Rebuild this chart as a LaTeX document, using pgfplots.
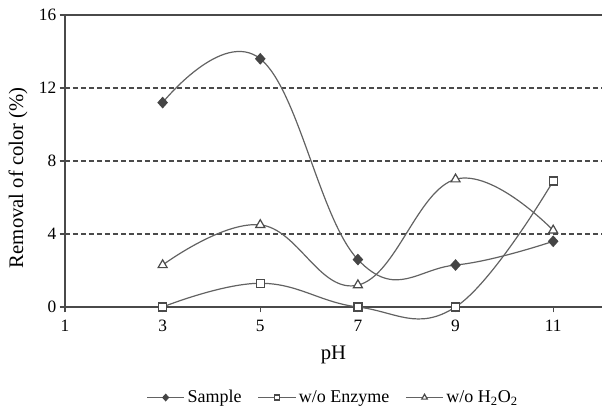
\documentclass[border=0pt]{standalone}
\usepackage{pgfplots}
\pgfplotsset{compat=1.18}
\usepackage{fontspec}
\setmainfont{Liberation Serif}
\definecolor{linegray}{HTML}{626262}
\definecolor{axisgray}{HTML}{4A4A4A}
\definecolor{markgray}{HTML}{454545}

\begin{document}
\begin{tikzpicture}
\begin{axis}[
    scale only axis,
    width=402.75pt, height=219pt,
    xmin=1, xmax=12,
    ymin=0, ymax=16,
    clip=false,
    xtick={1,3,5,7,9,11},
    ytick={0,4,8,12,16},
    axis x line*=bottom,
    axis y line*=left,
    axis line style={axisgray, line width=1pt},
    tick align=outside,
    major tick length=4pt,
    tick style={axisgray, line width=0.9pt},
    ymajorgrids=true,
    grid style={axisgray, line width=1pt, dash pattern=on 3.75pt off 2.25pt},
    xlabel={pH},
    ylabel={Removal of color (\%)},
    label style={font=\fontsize{15.5}{18}\selectfont},
    ticklabel style={font=\fontsize{13}{15}\selectfont},
    xticklabel style={yshift=-2.5pt},
    yticklabel style={xshift=1pt},
    /pgf/number format/assume math mode=true,
    xlabel style={at={(axis description cs:0.5,-0.164)}, anchor=center},
    ylabel style={at={(axis description cs:-0.0875,0.443)}, anchor=center},
    legend style={at={(0.5,-0.31)}, anchor=center, draw=none,
        font=\fontsize{13.5}{15}\selectfont,
        legend columns=3,
        /tikz/every even column/.append style={column sep=10pt}},
    legend image code/.code={
        \draw[mark repeat=2, mark phase=2, every mark/.append style={scale=0.62}]
            plot coordinates {(0pt,0pt) (14pt,0pt) (28pt,0pt)};
    },
    every axis plot/.append style={smooth, tension=0.7, linegray, line width=0.9pt},
]

\addplot[mark=diamond*, mark size=3.75pt, mark options={fill=markgray, draw=markgray, xscale=1.2}]
coordinates {(3,11.2) (5,13.6) (7,2.6) (9,2.3) (11,3.6)};
\addlegendentry{Sample}

\addplot[mark=square*, mark size=3pt, mark options={fill=white, draw=axisgray}]
coordinates {(3,0) (5,1.3) (7,0) (9,0) (11,6.9)};
\addlegendentry{w/o Enzyme}

\addplot[mark=triangle*, mark size=3.9pt, mark options={fill=white, draw=axisgray}]
coordinates {(3,2.3) (5,4.5) (7,1.2) (9,7.0) (11,4.2)};
\addlegendentry{w/o H\textsubscript{2}O\textsubscript{2}}

\draw[axisgray, line width=1pt] (rel axis cs:0,1) -- (rel axis cs:1,1);
% page margins as in the reference
\path (rel axis cs:0,0) ++(-48.75pt,-78pt);
\path (rel axis cs:1,1) ++(1.5pt,11.25pt);
\end{axis}
\end{tikzpicture}
\end{document}
